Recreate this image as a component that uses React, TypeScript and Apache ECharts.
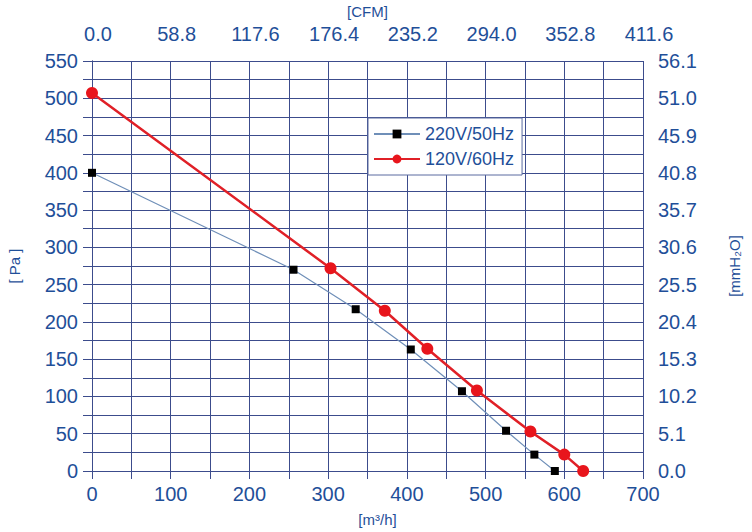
import React, { useEffect, useRef } from "react";
import * as echarts from "echarts";

const flow50 = [0, 256, 335, 405, 470, 526, 562, 588];
const pres50 = [400, 270, 217, 163, 107, 54, 22, 0];
const flow60 = [0, 303, 372, 426, 489, 557, 600, 624];
const pres60 = [507, 272, 215, 164, 108, 53, 22, 0];
const seriesNames = ["220V/50Hz", "120V/60Hz"];
const CFM_PER_M3H = 0.588;
const MMH2O_PER_PA = 0.102;

const TXT = "#1f4f99";
const GRIDC = "#3c4c8c";

export default function App() {
  const ref = useRef<HTMLDivElement>(null);
  useEffect(() => {
    if (!ref.current) return;
    const chart = echarts.init(ref.current, null, { renderer: "svg" });
    const font = "Liberation Sans, Arial, sans-serif";
    chart.setOption({
      animation: false,
      backgroundColor: "#ffffff",
      textStyle: { fontFamily: font },
      grid: {
        left: 92,
        right: 109,
        top: 61,
        bottom: 61,
        containLabel: false,
        outerBoundsMode: "none",
      },
      legend: {
        data: seriesNames,
        orient: "vertical",
        left: 368,
        top: 118,
        padding: [7, 8, 7, 5],
        itemGap: 7,
        itemWidth: 46,
        itemHeight: 11,
        backgroundColor: "#ffffff",
        borderColor: "#5a6aa0",
        borderWidth: 1,
        textStyle: { color: TXT, fontSize: 18, fontFamily: font },
      },
      xAxis: [
        {
          type: "value",
          position: "bottom",
          min: 0,
          max: 700,
          interval: 50,
          name: "[m³/h]",
          nameLocation: "middle",
          nameGap: 41,
          nameTextStyle: { color: TXT, fontSize: 15, padding: [0, 0, 0, 20] },
          axisLine: { show: true, lineStyle: { color: GRIDC, width: 1 } },
          axisTick: { show: true, length: 8, inside: false, lineStyle: { color: GRIDC } },
          splitLine: { show: true, lineStyle: { color: GRIDC, width: 1 } },
          axisLabel: {
            color: TXT,
            fontSize: 20,
            margin: 13,
            formatter: (v: number) => (v % 100 === 0 ? String(v) : ""),
          },
        },
        {
          type: "value",
          position: "top",
          min: 0,
          max: 700,
          interval: 100,
          name: "[CFM]",
          nameLocation: "middle",
          nameGap: 42,
          nameTextStyle: { color: TXT, fontSize: 15 },
          axisLine: { show: true, lineStyle: { color: GRIDC, width: 1 } },
          axisTick: { show: false },
          splitLine: { show: false },
          axisLabel: {
            color: TXT,
            fontSize: 20,
            margin: 17,
            padding: [0, 0, 0, 12],
            formatter: (v: number) => (v * CFM_PER_M3H).toFixed(1),
          },
        },
      ],
      yAxis: [
        {
          type: "value",
          position: "left",
          min: 0,
          max: 550,
          interval: 25,
          name: "[ Pa ]",
          nameLocation: "middle",
          nameRotate: 90,
          nameGap: 70,
          nameTextStyle: { color: TXT, fontSize: 15 },
          axisLine: { show: true, lineStyle: { color: GRIDC, width: 1 } },
          axisTick: { show: true, length: 9, lineStyle: { color: GRIDC } },
          splitLine: { show: true, lineStyle: { color: GRIDC, width: 1 } },
          axisLabel: {
            color: TXT,
            fontSize: 20,
            margin: 14,
            formatter: (v: number) => (v % 50 === 0 ? String(v) : ""),
          },
        },
        {
          type: "value",
          position: "right",
          min: 0,
          max: 550,
          interval: 50,
          name: "[mmH₂O]",
          nameLocation: "middle",
          nameRotate: 90,
          nameGap: 84,
          nameTextStyle: { color: TXT, fontSize: 15 },
          axisLine: { show: true, lineStyle: { color: GRIDC, width: 1 } },
          axisTick: { show: false },
          splitLine: { show: false },
          axisLabel: {
            color: TXT,
            fontSize: 20,
            margin: 15,
            formatter: (v: number) => (v * MMH2O_PER_PA).toFixed(1),
          },
        },
      ],
      series: [
        {
          name: seriesNames[0],
          type: "line",
          xAxisIndex: 0,
          yAxisIndex: 0,
          data: flow50.map((x, i) => [x, pres50[i]]),
          symbol: "rect",
          symbolSize: 8,
          itemStyle: { color: "#000000" },
          lineStyle: { color: "#6f8fb8", width: 1.2 },
          z: 3,
        },
        {
          name: seriesNames[1],
          type: "line",
          xAxisIndex: 0,
          yAxisIndex: 0,
          data: flow60.map((x, i) => [x, pres60[i]]),
          symbol: "circle",
          symbolSize: 12,
          itemStyle: { color: "#e8151c" },
          lineStyle: { color: "#e02027", width: 2.5 },
          z: 4,
        },
      ],
    });
    return () => chart.dispose();
  }, []);
  return (
    <div
      ref={ref}
      style={{ position: "fixed", left: 0, top: 0, width: 752, height: 532 }}
    />
  );
}
